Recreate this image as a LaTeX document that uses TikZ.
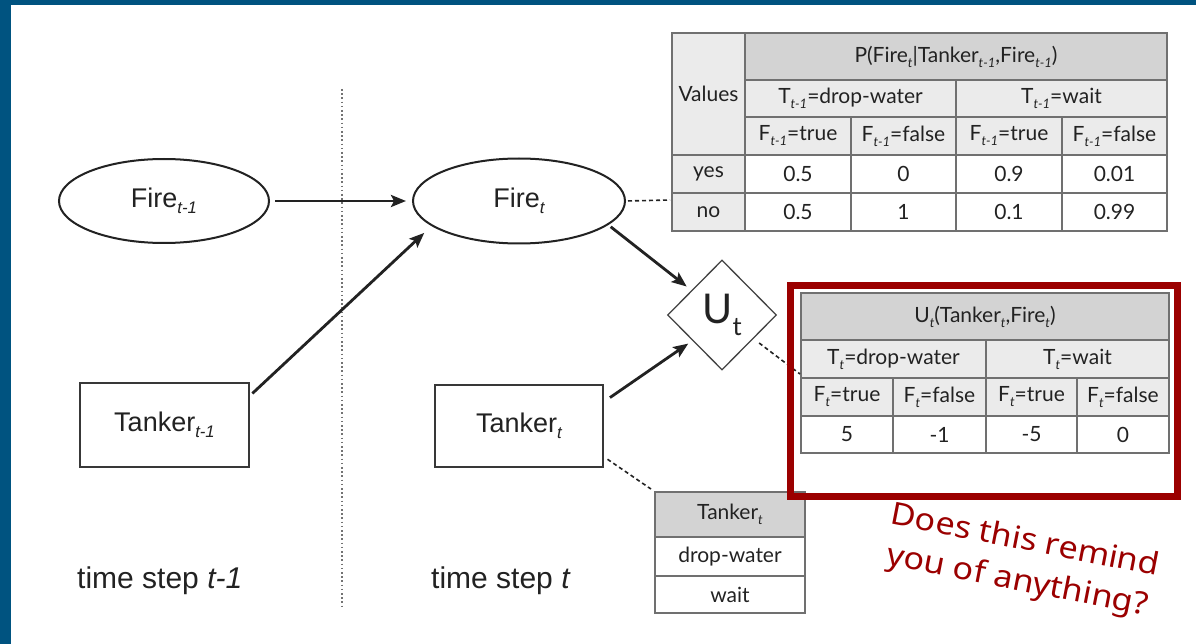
\documentclass[tikz,border=0pt]{standalone}
\usepackage{fontspec}
\setmainfont{Liberation Sans}
\newfontfamily\tabfont{Lato}
\newfontfamily\notefont{Noto Sans}
\usetikzlibrary{shapes.geometric,arrows.meta}
\definecolor{frameblue}{RGB}{0,83,128}
\definecolor{hdrgray}{RGB}{211,211,211}
\definecolor{lightgray}{RGB}{235,235,235}
\definecolor{cellline}{RGB}{112,112,112}
\definecolor{ink}{RGB}{34,34,34}
\definecolor{hlred}{RGB}{155,0,0}
\newcommand\sbs[1]{\raisebox{-0.24em}{\scalebox{0.62}{\itshape #1}}}
\newcommand\tcell[7]{\node[cellbox, fill=#6, minimum width={(#4-#2)*1pt}, minimum height={(#5-#3)*1pt}] (#1) at ({(#2+#4)/2},{(#3+#5)/2}) {#7};}
\tikzset{
  cellbox/.style={draw=cellline, line width=1.4pt, inner sep=0pt, text=ink, font=\tabfont\fontsize{21}{25}\selectfont},
  ellnode/.style={ellipse, draw=ink, line width=2pt, inner sep=0pt, text=ink, font=\fontsize{27}{30}\selectfont},
  boxnode/.style={rectangle, draw=ink!90, line width=2.4pt, inner sep=0pt, text=ink, font=\fontsize{27}{30}\selectfont},
  arr/.style={draw=ink, line width=2.8pt, -{Stealth[length=15pt,width=12pt,inset=3pt]}},
  dashline/.style={draw=ink, line width=1.6pt, dash pattern=on 4pt off 3pt},
  sepline/.style={draw=black!55, line width=1.6pt, dash pattern=on 1.6pt off 2.6pt},
  steplabel/.style={anchor=base west, text=ink, font=\fontsize{30}{34}\selectfont, inner sep=0pt}
}
\begin{document}
\begin{tikzpicture}[x=1pt,y=-1pt]
\useasboundingbox (0,0) rectangle (1196,644);
\fill[white] (0,0) rectangle (1196,644);
\fill[frameblue] (0,0) rectangle (1196,5);
\fill[frameblue] (0,0) rectangle (11,644);

% time separator
\draw[sepline] (342,89) -- (342,607);

% nodes
\node[ellnode, minimum width=210pt, minimum height=84pt] (f1) at (164,201) {Fire\sbs{t-1}};
\node[ellnode, minimum width=212pt, minimum height=85pt] (f2) at (519,201) {Fire\sbs{t}};
\node[boxnode, minimum width=169pt, minimum height=84pt] (t1) at (164.5,425) {Tanker\sbs{t-1}};
\node[boxnode, minimum width=168pt, minimum height=82pt] (t2) at (519,426) {Tanker\sbs{t}};
\node[diamond, draw=ink!85, line width=1.3pt, minimum width=109pt, minimum height=110pt, inner sep=0pt, text=ink, font=\tabfont\fontsize{41}{43}\selectfont] (u) at (722,315) {U\raisebox{-0.28em}{\scalebox{0.62}{t}}};

\node[steplabel] (ts1) at (77,588) {time step \textit{t-1}};
\node[steplabel] (ts2) at (431,588) {time step \textit{t}};

% table 1: P(Fire_t | ...)
\tcell{v}{672}{33}{745}{155}{lightgray}{Values}
\tcell{ph}{745}{33}{1167}{80}{hdrgray}{P(Fire\sbs{t}|Tanker\sbs{t-1},Fire\sbs{t-1})}
\tcell{pa}{745}{80}{956}{117}{lightgray}{T\sbs{t-1}=drop-water}
\tcell{pb}{956}{80}{1167}{117}{lightgray}{T\sbs{t-1}=wait}
\tcell{pc1}{745}{117}{851}{155}{lightgray}{F\sbs{t-1}=true}
\tcell{pc2}{851}{117}{956}{155}{lightgray}{F\sbs{t-1}=false}
\tcell{pc3}{956}{117}{1062}{155}{lightgray}{F\sbs{t-1}=true}
\tcell{pc4}{1062}{117}{1167}{155}{lightgray}{F\sbs{t-1}=false}
\tcell{yes}{672}{155}{745}{193}{lightgray}{yes}
\tcell{y1}{745}{155}{851}{193}{white}{0.5}
\tcell{y2}{851}{155}{956}{193}{white}{0}
\tcell{y3}{956}{155}{1062}{193}{white}{0.9}
\tcell{y4}{1062}{155}{1167}{193}{white}{0.01}
\tcell{no}{672}{193}{745}{231}{lightgray}{no}
\tcell{n1}{745}{193}{851}{231}{white}{0.5}
\tcell{n2}{851}{193}{956}{231}{white}{1}
\tcell{n3}{956}{193}{1062}{231}{white}{0.1}
\tcell{n4}{1062}{193}{1167}{231}{white}{0.99}

% table 2: utility
\tcell{uh}{801}{293}{1169}{340}{hdrgray}{U\sbs{t}(Tanker\sbs{t},Fire\sbs{t})}
\tcell{ua}{801}{340}{986}{378}{lightgray}{T\sbs{t}=drop-water}
\tcell{ub}{986}{340}{1169}{378}{lightgray}{T\sbs{t}=wait}
\tcell{uc1}{801}{378}{893}{416}{lightgray}{F\sbs{t}=true}
\tcell{uc2}{893}{378}{986}{416}{lightgray}{F\sbs{t}=false}
\tcell{uc3}{986}{378}{1077}{416}{lightgray}{F\sbs{t}=true}
\tcell{uc4}{1077}{378}{1169}{416}{lightgray}{F\sbs{t}=false}
\tcell{u1}{801}{416}{893}{453}{white}{5}
\tcell{u2}{893}{416}{986}{453}{white}{-1}
\tcell{u3}{986}{416}{1077}{453}{white}{-5}
\tcell{u4}{1077}{416}{1169}{453}{white}{0}

% table 3: tanker values
\tcell{sh}{655}{492}{805}{537}{hdrgray}{Tanker\sbs{t}}
\tcell{s1}{655}{537}{805}{576}{white}{drop-water}
\tcell{s2}{655}{576}{805}{613}{white}{wait}

% free ends of dashed links
\coordinate (c1) at (670,200);
\coordinate (c2) at (800,374);

% connectors
\draw[arr, shorten <=5pt, shorten >=6pt] (f1.east) -- (f2.west);
\draw[arr, shorten <=3pt, shorten >=10pt] (t1.19) -- (f2.196);
\draw[arr, shorten <=3pt, shorten >=6pt] (f2.345) -- (u.141);
\draw[arr, shorten <=7pt, shorten >=5pt] (t2.16) -- (u.221);
\draw[dashline, shorten <=2pt] (f2.east) -- (c1);
\draw[dashline, shorten <=7pt] (u.-37) -- (c2);
\draw[dashline, shorten <=4pt, shorten >=4pt] (t2.-20) -- (sh.north west);

% highlight
\node[draw=hlred, line width=7pt, minimum width=387pt, minimum height=211pt, inner sep=0pt] (hl) at (984,391) {};
\node[text=hlred, rotate=-11, align=center, inner sep=0pt, font=\notefont\fontsize{31}{41}\selectfont] (note) at (1021,562) {\scalebox{1.1}[1]{Does this remind}\\\scalebox{1.1}[1]{you of anything?}};
\end{tikzpicture}
\end{document}
